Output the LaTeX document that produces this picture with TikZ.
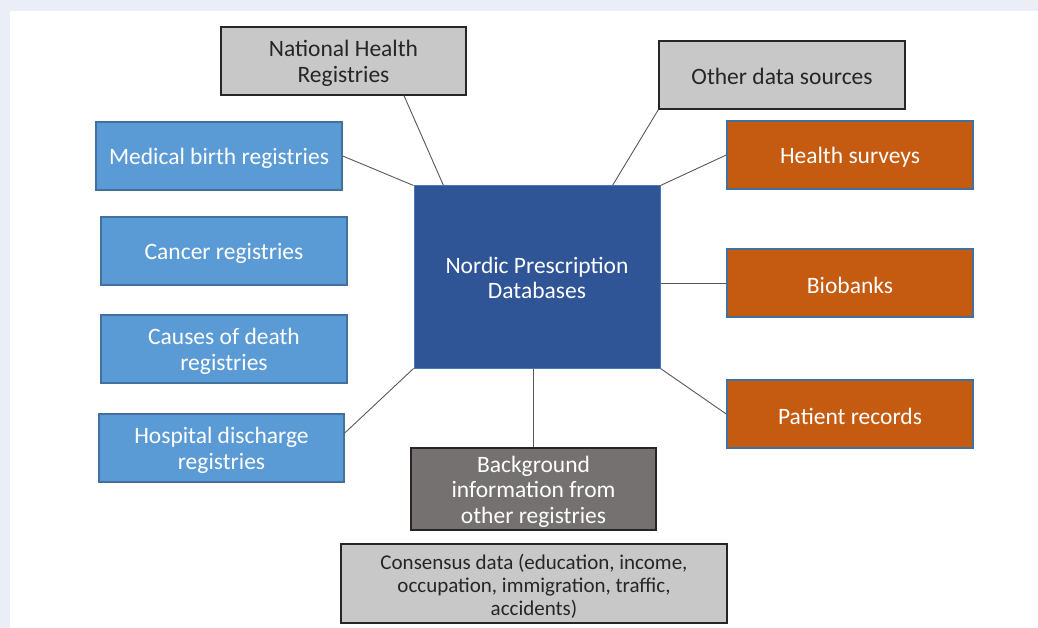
\documentclass[tikz,border=0pt]{standalone}
\usepackage{fontspec}
\setmainfont{Carlito}
\usetikzlibrary{calc}
\definecolor{frame}{HTML}{EBEEF6}
\definecolor{lblue}{HTML}{5B9BD5}
\definecolor{lblueb}{HTML}{41719C}
\definecolor{dblue}{HTML}{2F5597}
\definecolor{dblueb}{HTML}{4A78B5}
\definecolor{orng}{HTML}{C55A11}
\definecolor{lgray}{HTML}{C8C8C8}
\definecolor{dgray}{HTML}{767171}
\definecolor{txtgray}{HTML}{262626}
\definecolor{linec}{HTML}{595959}
\tikzset{
  box/.style={rectangle, inner sep=0pt, minimum height=68pt, minimum width=246pt},
  bluebox/.style={box, fill=lblue, draw=lblueb, line width=1.5pt},
  orbox/.style={box, fill=orng, draw=lblueb, line width=1.5pt},
  graybox/.style={box, fill=lgray, draw=black!85, line width=1.3pt},
  lbl/.style={inner sep=0pt, align=center, font=\fontsize{23.5}{25.5}\selectfont, yshift=-2.5pt},
  wl/.style={lbl, text=white},
  gl/.style={lbl, text=txtgray},
  conn/.style={draw=linec, line width=0.9pt},
}
\begin{document}
\begin{tikzpicture}[x=1pt,y=-1pt]
\useasboundingbox (0,0) rectangle (1038,628);
\fill[frame] (0,0) rectangle (1038,628);
\fill[white] (10,11) rectangle (1038,628);

\node[graybox, minimum width=245pt, label={[gl]center:{National Health\\Registries}}] (nhr) at (343.5,61) {};
\node[graybox, label={[gl, yshift=1.5pt]center:{Other data sources}}] (other) at (782,75) {};
\node[bluebox, label={[wl]center:{Medical birth registries}}] (med) at (219,156) {};
\node[bluebox, label={[wl]center:{Cancer registries}}] (cancer) at (224,251) {};
\node[bluebox, label={[wl]center:{Causes of death\\registries}}] (causes) at (224,349) {};
\node[bluebox, minimum width=245pt, label={[wl]center:{Hospital discharge\\registries}}] (hosp) at (221.5,448) {};
\node[box, fill=dblue, draw=dblueb, line width=1pt, minimum height=182pt, label={[wl, yshift=1.5pt]center:{Nordic Prescription\\Databases}}] (central) at (537,277) {};
\node[orbox, label={[wl]center:{Health surveys}}] (surveys) at (850,155) {};
\node[orbox, label={[wl]center:{Biobanks}}] (biobanks) at (850,283) {};
\node[orbox, label={[wl]center:{Patient records}}] (patient) at (850,414) {};
\node[box, fill=dgray, draw=black!85, line width=1.3pt, minimum width=245pt, minimum height=82pt, label={[wl]center:{Background\\information from\\other registries}}] (bg) at (533.5,489) {};
\node[box, fill=lgray, draw=black!85, line width=1.3pt, minimum width=386pt, minimum height=79pt, label={[gl, font=\fontsize{21}{23}\selectfont]center:{Consensus data (education, income,\\occupation, immigration, traffic,\\accidents)}}] (cons) at (534,583.5) {};

\draw[conn] ($(nhr.south)+(60.5,0)$) -- ($(central.north west)+(30,0)$);
\draw[conn] (other.south west) -- ($(central.north east)+(-48,0)$);
\draw[conn] (med.east) -- (central.north west);
\draw[conn] (surveys.west) -- (central.north east);
\draw[conn] ($(cancer.east)+(0,-2)$) -- ($(cancer.east)+(0,-2)$ -| central.west);
\draw[conn] (biobanks.west) -- (biobanks.west -| central.east);
\draw[conn] ($(causes.east)+(0,-10)$) -- ($(causes.east)+(0,-10)$ -| central.west);
\draw[conn] ($(hosp.east)+(0,-15)$) -- (central.south west);
\draw[conn] (central.south east) -- (patient.west);
\draw[conn] (central.south -| bg.north) -- (bg.north);
\end{tikzpicture}
\end{document}
